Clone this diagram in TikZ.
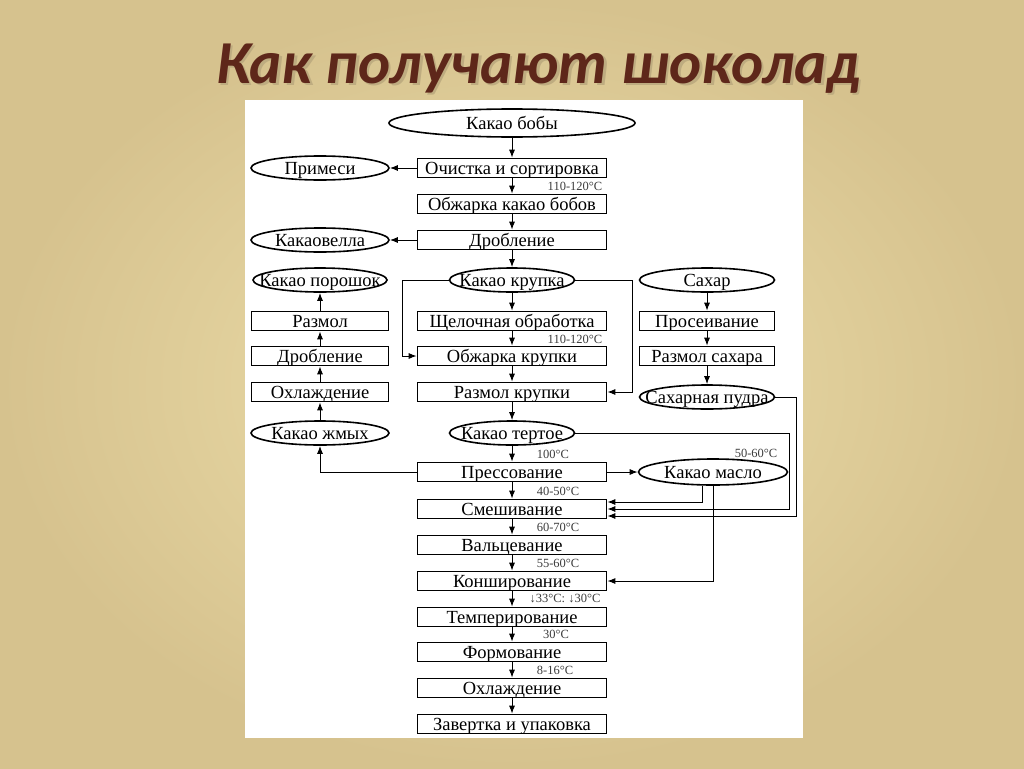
\documentclass[tikz,border=0pt]{standalone}
\usepackage{fontspec}
\setmainfont{Liberation Serif}
\newfontfamily\titlefont{Carlito}
\usetikzlibrary{arrows.meta,shapes.geometric,positioning}

\definecolor{slidebg}{RGB}{238,224,172}
\definecolor{slideedge}{RGB}{214,194,142}
\definecolor{titlebrown}{RGB}{94,39,26}
\definecolor{titleshadow}{RGB}{190,172,128}
\definecolor{templabel}{RGB}{60,60,60}

\newcommand{\shadowtitle}[1]{\rlap{\hspace{2.5pt}\raisebox{-2.5pt}{\textcolor{titleshadow}{#1}}}#1}

\begin{document}
\begin{tikzpicture}[x=1pt,y=-1pt,->,>={Latex[length=8pt,width=6pt]},line width=1pt,node distance=36pt,
    box/.style={rectangle,draw,line width=1.6pt,minimum width=189,minimum height=19,inner sep=0pt,
        text height=14pt,text depth=2pt,font=\fontsize{18.5}{18.5}\selectfont},
    side box/.style={box,minimum width=137},
    oval/.style={ellipse,draw,line width=1.6pt,inner sep=0pt,minimum width=125,minimum height=24,
        text height=14pt,text depth=2pt,font=\fontsize{18.5}{18.5}\selectfont,
        execute at begin node={\hbox to 0pt\bgroup\hss},execute at end node={\hss\egroup}},
    temp/.style={font=\fontsize{12.5}{12.5}\selectfont,text=templabel,inner sep=0pt}]

    % slide and white sheet
    \shade[-,inner color=slidebg,outer color=slideedge] (0,0) rectangle (1024,768);
    \fill[-,white] (245,100) rectangle (803,738);

    \node[font=\titlefont\bfseries\itshape\fontsize{61}{61}\selectfont,text=titlebrown,anchor=base] (title) at (538,83) {\shadowtitle{Как получают шоколад}};

    % main column
    \node[oval,minimum width=246,minimum height=28] (1) at (512,123) {Какао бобы};
    \node[box] (2) [below of = 1, yshift=-9pt] {Очистка и сортировка};
    \node[box] (3) [below of = 2] {Обжарка какао бобов};
    \node[box] (4) [below of = 3] {Дробление};
    \node[oval] (5) [below of = 4, yshift=-4pt] {Какао крупка};
    \node[box] (6) [below of = 5, yshift=-5pt] {Щелочная обработка};
    \node[box] (7) [below of = 6, yshift=1pt] {Обжарка крупки};
    \node[box] (8) [below of = 7] {Размол крупки};
    \node[oval] (9) [below of = 8, yshift=-5pt] {Какао тертое};
    \node[box] (10) [below of = 9, yshift=-3pt] {Прессование};
    \node[box] (11) [below of = 10, yshift=-1pt] {Смешивание};
    \node[box] (12) [below of = 11] {Вальцевание};
    \node[box] (13) [below of = 12] {Конширование};
    \node[box] (14) [below of = 13] {Темперирование};
    \node[box] (15) [below of = 14, yshift=1pt] {Формование};
    \node[box] (16) [below of = 15] {Охлаждение};
    \node[box] (17) [below of = 16] {Завертка и упаковка};

    % left column
    \node[oval,minimum width=138] (l1) [left of = 2, node distance=192pt] {Примеси};
    \node[oval,minimum width=138] (l2) [left of = 4, node distance=192pt] {Какаовелла};
    \node[oval,minimum width=134] (l3) [left of = 5, node distance=192pt] {Какао порошок};
    \node[side box] (l4) [left of = 6, node distance=192pt] {Размол};
    \node[side box] (l5) [left of = 7, node distance=192pt] {Дробление};
    \node[side box] (l6) [left of = 8, node distance=192pt] {Охлаждение};
    \node[oval,minimum width=138] (l7) [left of = 9, node distance=192pt] {Какао жмых};

    % right column
    \node[oval,minimum width=135] (r1) [right of = 5, node distance=195pt] {Сахар};
    \node[side box,minimum width=135] (r2) [right of = 6, node distance=195pt] {Просеивание};
    \node[side box,minimum width=135] (r3) [right of = 7, node distance=195pt] {Размол сахара};
    \node[oval,minimum width=135] (r4) [right of = 8, node distance=195pt, yshift=-5pt] {Сахарная пудра};
    \node[oval,minimum width=149,minimum height=26] (r5) [right of = 10, node distance=201pt] {Какао масло};

    % temperatures
    \node[temp] (t1) at (575,186) {110-120°C};
    \node[temp] (t2) at (575,339) {110-120°C};
    \node[temp] (t3) at (553,454) {100°C};
    \node[temp] (t4) at (756,453) {50-60°C};
    \node[temp] (t5) at (558,491) {40-50°C};
    \node[temp] (t6) at (558,527) {60-70°C};
    \node[temp] (t7) at (558,563) {55-60°C};
    \node[temp] (t8) at (565,599) {↓33°C: ↓30°C};
    \node[temp] (t9) at (556,634) {30°C};
    \node[temp] (t10) at (555,670) {8-16°C};

    \path
        (1) edge (2)
        (2) edge (3)
        (3) edge (4)
        (4) edge (5)
        (5) edge (6)
        (6) edge (7)
        (7) edge (8)
        (8) edge (9)
        (9) edge (10)
        (10) edge (11)
        (11) edge (12)
        (12) edge (13)
        (13) edge (14)
        (14) edge (15)
        (15) edge (16)
        (16) edge (17)
        (2) edge (l1)
        (4) edge (l2)
        (l7) edge (l6)
        (l6) edge (l5)
        (l5) edge (l4)
        (l4) edge (l3)
        (r1) edge (r2)
        (r2) edge (r3)
        (r3) edge (r4)
        (10) edge (r5)
        ;

    \draw (5.west) -- ++(-46,0) |- (7.west);
    \draw (5.east) -- ++(57,0) |- (8.east);
    \draw (10.west) -| (l7.south);
    \draw (9.east) -- ++(214,0) |- (11.east);
    \draw (r4.east) -- ++(21,0) |- ([yshift=-7pt]11.east);
    \draw ([xshift=-11pt]r5.south) |- ([yshift=7pt]11.east);
    \draw (r5.south) |- (13.east);
\end{tikzpicture}
\end{document}
